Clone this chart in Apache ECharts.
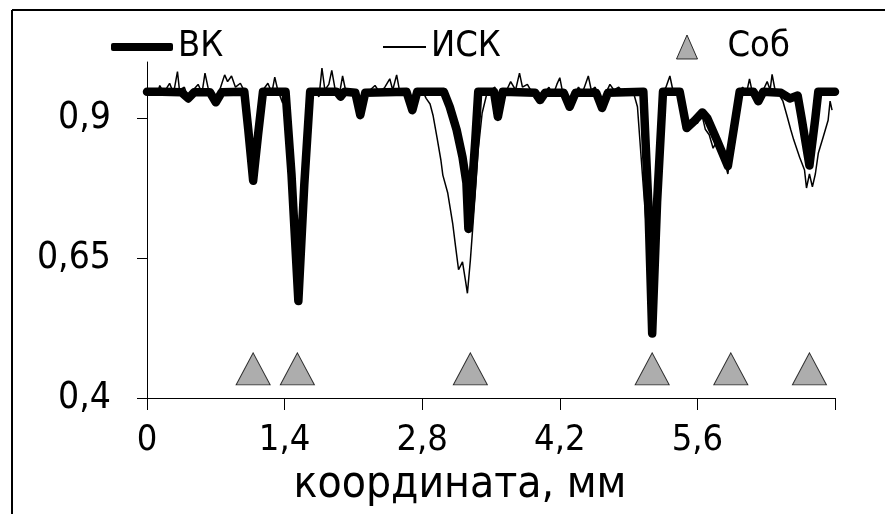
<!DOCTYPE html>
<html>
<head>
<meta charset="utf-8">
<script src="https://cdn.jsdelivr.net/npm/echarts@6/dist/echarts.min.js"></script>
<style>html,body{margin:0;padding:0;background:#fff;}#c{width:885px;height:514px;}</style>
</head>
<body>
<div id="c"></div>
<script>
// ВК (thick line)
const vkX = [0.00,0.15,0.35,0.42,0.48,0.64,0.70,0.76,0.99,1.03,1.08,1.13,1.18,1.41,1.47,1.54,1.60,1.66,1.93,1.97,2.01,2.12,2.17,2.22,2.64,2.70,2.75,3.02,3.08,3.15,3.21,3.25,3.27,3.30,3.34,3.37,3.53,3.57,3.62,3.95,4.00,4.05,4.24,4.30,4.36,4.57,4.63,4.69,5.05,5.10,5.14,5.19,5.25,5.42,5.49,5.57,5.65,5.70,5.80,5.91,5.97,6.03,6.17,6.22,6.27,6.45,6.54,6.62,6.66,6.74,6.80,6.83,7.00];
const vkY = [0.947,0.947,0.946,0.935,0.946,0.946,0.928,0.946,0.947,0.88,0.788,0.87,0.947,0.947,0.80,0.573,0.78,0.947,0.947,0.938,0.947,0.945,0.905,0.945,0.947,0.914,0.947,0.947,0.92,0.879,0.83,0.784,0.702,0.76,0.86,0.947,0.947,0.902,0.947,0.945,0.932,0.945,0.945,0.92,0.945,0.945,0.918,0.945,0.947,0.75,0.515,0.75,0.947,0.947,0.882,0.895,0.91,0.90,0.86,0.814,0.88,0.947,0.947,0.93,0.947,0.945,0.935,0.94,0.90,0.815,0.90,0.947,0.947];
// ИСК (thin line)
const iskX = [0.00,0.05,0.10,0.13,0.17,0.23,0.27,0.31,0.33,0.38,0.42,0.47,0.52,0.56,0.59,0.62,0.66,0.70,0.74,0.79,0.82,0.86,0.90,0.95,0.99,1.03,1.08,1.13,1.18,1.23,1.27,1.30,1.33,1.38,1.42,1.47,1.54,1.60,1.65,1.70,1.75,1.78,1.81,1.85,1.88,1.91,1.95,1.99,2.02,2.06,2.12,2.17,2.22,2.27,2.32,2.37,2.42,2.47,2.50,2.54,2.57,2.62,2.66,2.70,2.75,2.80,2.84,2.88,2.91,2.95,2.99,3.01,3.06,3.11,3.14,3.17,3.21,3.24,3.26,3.29,3.32,3.37,3.41,3.46,3.50,3.54,3.57,3.62,3.66,3.70,3.75,3.79,3.82,3.87,3.92,3.96,4.00,4.04,4.09,4.13,4.17,4.20,4.23,4.27,4.30,4.34,4.39,4.43,4.46,4.49,4.52,4.56,4.60,4.63,4.67,4.71,4.75,4.80,4.85,4.90,4.95,4.99,5.04,5.10,5.14,5.19,5.24,5.28,5.32,5.35,5.40,5.46,5.49,5.53,5.57,5.60,5.64,5.68,5.72,5.76,5.80,5.85,5.91,5.97,6.02,6.06,6.10,6.13,6.16,6.22,6.27,6.31,6.34,6.36,6.39,6.42,6.47,6.51,6.55,6.58,6.64,6.69,6.71,6.74,6.77,6.80,6.83,6.88,6.93,6.95,6.97];
const iskY = [0.945,0.950,0.940,0.958,0.945,0.962,0.944,0.983,0.950,0.955,0.935,0.950,0.960,0.945,0.980,0.955,0.940,0.930,0.950,0.977,0.965,0.975,0.955,0.962,0.948,0.88,0.785,0.87,0.950,0.962,0.945,0.973,0.950,0.927,0.940,0.80,0.573,0.78,0.945,0.950,0.938,0.989,0.950,0.960,0.985,0.955,0.935,0.975,0.950,0.945,0.935,0.905,0.935,0.950,0.958,0.945,0.955,0.970,0.950,0.977,0.948,0.950,0.935,0.91,0.945,0.950,0.935,0.925,0.905,0.866,0.825,0.798,0.766,0.712,0.67,0.629,0.643,0.61,0.587,0.646,0.718,0.843,0.909,0.945,0.950,0.955,0.905,0.945,0.950,0.965,0.950,0.980,0.955,0.960,0.945,0.950,0.930,0.945,0.955,0.940,0.960,0.972,0.945,0.935,0.918,0.940,0.955,0.945,0.960,0.975,0.950,0.955,0.935,0.915,0.945,0.960,0.950,0.955,0.945,0.950,0.945,0.92,0.80,0.66,0.515,0.75,0.945,0.955,0.975,0.950,0.945,0.92,0.89,0.885,0.90,0.89,0.91,0.88,0.87,0.846,0.86,0.84,0.80,0.88,0.945,0.955,0.945,0.970,0.945,0.93,0.950,0.965,0.950,0.978,0.950,0.945,0.93,0.905,0.879,0.861,0.83,0.807,0.775,0.80,0.777,0.80,0.837,0.866,0.896,0.93,0.914];
// Соб (events, triangles)
const sobX = [1.08,1.53,3.29,5.14,5.94,6.74];
const sobY = [0.452,0.452,0.452,0.452,0.452,0.452];
// axis ticks
const xTicks = [0,1.4,2.8,4.2,5.6,7.0];
const xLabels = [0,1.4,2.8,4.2,5.6];
const yTicks = [0.4,0.65,0.9];

const zip = (a,b)=>a.map((v,i)=>[v,b[i]]);
const FONT = '"DejaVu Sans Condensed", "Liberation Sans", sans-serif';
const fmt = v => String(Math.round(v*100)/100).replace('.', ',');

const chart = echarts.init(document.getElementById('c'), null, {renderer:'canvas'});
chart.setOption({
  animation:false,
  backgroundColor:'#fff',
  grid:{left:147,right:50,top:62,bottom:116,containLabel:false},
  legend:[
    {left:106,top:24,itemWidth:62,itemHeight:8,textStyle:{fontFamily:FONT,fontSize:36,color:'#000'},
     data:[{name:'ВК',icon:'roundRect',itemStyle:{color:'#000'}}]},
    {left:378,top:24,itemWidth:43,itemHeight:2,textStyle:{fontFamily:FONT,fontSize:36,color:'#000'},
     data:[{name:'ИСК',icon:'rect',itemStyle:{color:'#000'}}]},
    {left:671,top:24,itemWidth:21,itemHeight:24,textStyle:{fontFamily:FONT,fontSize:36,color:'#000',padding:[0,0,0,25]},
     data:[{name:'Соб',icon:'triangle',itemStyle:{color:'#999999',borderColor:'#000',borderWidth:1}}]}
  ],
  xAxis:{type:'value',min:0,max:7,
    name:'координата, мм',nameLocation:'middle',nameGap:61,
    nameTextStyle:{fontFamily:FONT,fontSize:44,color:'#000',padding:[0,62,0,0]},
    axisLine:{show:true,lineStyle:{color:'#000',width:1}},
    axisTick:{show:true,length:12,customValues:xTicks,lineStyle:{color:'#000'}},
    axisLabel:{customValues:xLabels,formatter:fmt,margin:25,fontFamily:FONT,fontSize:36,color:'#000'},
    splitLine:{show:false}},
  yAxis:{type:'value',min:0.4,max:1.0,
    axisLine:{show:true,lineStyle:{color:'#000',width:1}},
    axisTick:{show:true,length:10,customValues:yTicks,lineStyle:{color:'#000'}},
    axisLabel:{customValues:yTicks,formatter:fmt,margin:36,fontFamily:FONT,fontSize:37,color:'#000'},
    splitLine:{show:false}},
  graphic:[
    {type:'line',shape:{x1:12,y1:10,x2:885,y2:10},style:{stroke:'#000',lineWidth:2},silent:true},
    {type:'line',shape:{x1:12,y1:10,x2:12,y2:514},style:{stroke:'#000',lineWidth:2},silent:true}
  ],
  series:[
    {name:'ВК',type:'line',data:zip(vkX,vkY),symbol:'none',
     lineStyle:{color:'#000',width:8.5,cap:'round',join:'round'},z:2},
    {name:'ИСК',type:'line',data:zip(iskX,iskY),symbol:'none',
     lineStyle:{color:'#000',width:1.5},z:3},
    {name:'Соб',type:'scatter',data:zip(sobX,sobY),symbol:'triangle',symbolSize:[34,32],
     itemStyle:{color:'#999999',borderColor:'#000',borderWidth:1},z:4}
  ]
});
</script>
</body>
</html>
